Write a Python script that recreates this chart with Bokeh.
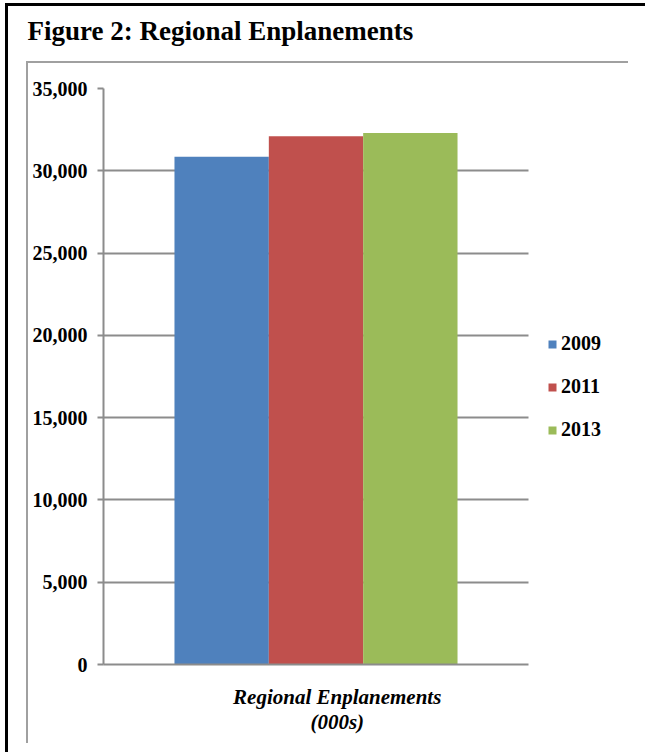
from bokeh.plotting import figure
from bokeh.models import (ColumnDataSource, Legend, LegendItem, InlineStyleSheet,
                          NumeralTickFormatter, FixedTicker, Range1d, BoxAnnotation)
from bokeh.transform import dodge
from bokeh.embed import file_html
from bokeh.resources import INLINE

# ---- data ----
category = ["Regional Enplanements\n(000s)"]
category_pos = [0.0]
years = ["2009", "2011", "2013"]
enplanements = [30850, 32100, 32300]
colors = ["#4F81BD", "#C0504D", "#9BBB59"]
y_ticks = [0, 5000, 10000, 15000, 20000, 25000, 30000, 35000]
title_text = "Figure 2: Regional Enplanements"

FONT = "Liberation Serif"
GRAY = "#8c8c8c"

# plot area: canvas x 103..528 (data -0.5..0.5), frame extends to 645 for the legend
FL, FB, FT = 103, 664, 88
W, H = 645, 752
PLOT_W = 425
X0, X1 = -0.5, 0.5
X_END = X0 + (W - FL) / PLOT_W * (X1 - X0)
LABEL_SHIFT = 0.05   # category caption sits a little right of the bar group

p = figure(width=W, height=H, x_range=Range1d(X0, X_END), y_range=Range1d(0, 35000),
           output_backend="svg", toolbar_location=None,
           min_border_left=FL, min_border_right=0,
           min_border_top=FT, min_border_bottom=H - FB)
p.outline_line_color = None
p.background_fill_color = "white"
p.border_fill_color = "white"

bar_w = 0.222
offsets = [-bar_w, 0.0, bar_w]
renderers = []
for yr, val, col, off in zip(years, enplanements, colors, offsets):
    src = ColumnDataSource(dict(pos=category_pos, val=[val]))
    r = p.vbar(x=dodge("pos", off), top="val", width=bar_w,
               source=src, fill_color=col, line_color=None)
    renderers.append((yr, r))

# y axis
p.yaxis.ticker = FixedTicker(ticks=y_ticks)
p.yaxis.formatter = NumeralTickFormatter(format="0,0")
p.yaxis.axis_line_color = GRAY
p.yaxis.axis_line_width = 2
p.yaxis.major_tick_line_color = GRAY
p.yaxis.major_tick_line_width = 2
p.yaxis.major_tick_out = 6
p.yaxis.major_tick_in = 0
p.yaxis.minor_tick_line_color = None
p.yaxis.major_label_text_font = FONT
p.yaxis.major_label_text_font_style = "bold"
p.yaxis.major_label_text_font_size = "20px"
p.yaxis.major_label_text_color = "black"
p.yaxis.major_label_standoff = 10

# x axis (category caption as tick label)
label_ticks = [c + LABEL_SHIFT for c in category_pos]
p.xaxis.ticker = FixedTicker(ticks=label_ticks)
p.xaxis.major_label_overrides = {t: c for t, c in zip(label_ticks, category)}
p.xaxis.bounds = (X0, X1)
p.xaxis.axis_line_color = GRAY
p.xaxis.axis_line_width = 2
p.xaxis.major_tick_line_color = None
p.xaxis.major_tick_out = 0
p.xaxis.major_tick_in = 0
p.xaxis.minor_tick_line_color = None
p.xaxis.major_label_text_font = FONT
p.xaxis.major_label_text_font_style = "bold italic"
p.xaxis.major_label_text_font_size = "21px"
p.xaxis.major_label_text_color = "black"
p.xaxis.major_label_text_line_height = 1.08
p.xaxis.major_label_standoff = 20

p.xgrid.grid_line_color = None
p.ygrid.grid_line_color = GRAY
p.ygrid.grid_line_width = 2
if "cross_bounds" in p.ygrid.properties():
    p.ygrid.cross_bounds = (X0, X1)
else:
    p.add_layout(BoxAnnotation(left=X1, fill_color="white", fill_alpha=1,
                               line_color=None, level="underlay"))

# title (second, empty line keeps the heading near the top of the page)
p.title.text = title_text + "\n"
p.title.text_font = FONT
p.title.text_font_style = "bold"
p.title.text_font_size = "27px"
p.title.text_line_height = 1.0
p.title.text_color = "black"
p.title.align = "left"
p.title.offset = 27 - FL
p.title.standoff = 25

# legend (inside the extended frame, right of the bars)
items = [LegendItem(label=yr, renderers=[r]) for yr, r in renderers]
legend = Legend(items=items, location=(547 - FL, 223))
legend.glyph_width = 10
legend.glyph_height = 10
legend.label_standoff = 4
legend.label_text_font = FONT
legend.label_text_font_style = "bold"
legend.label_text_font_size = "20px"
legend.label_text_color = "black"
legend.spacing = 20
legend.padding = 0
legend.margin = 0
legend.border_line_color = None
legend.background_fill_color = None
p.add_layout(legend)

# page frame lines (black outer, grey inner) as decoration
css = """
:host::before {
  content: ""; position: absolute; left: 5px; top: 3px; width: 640px; height: 749px;
  border-left: 3px solid #000; border-top: 3px solid #000; box-sizing: border-box;
  pointer-events: none; z-index: 5;
}
:host::after {
  content: ""; position: absolute; left: 26px; top: 61px; width: 602px; height: 682px;
  border-left: 2px solid #a0a0a0; border-top: 2px solid #a0a0a0; box-sizing: border-box;
  pointer-events: none; z-index: 5;
}
"""
p.stylesheets = [InlineStyleSheet(css=css)]

open("out.html", "w").write(file_html(p, INLINE))
